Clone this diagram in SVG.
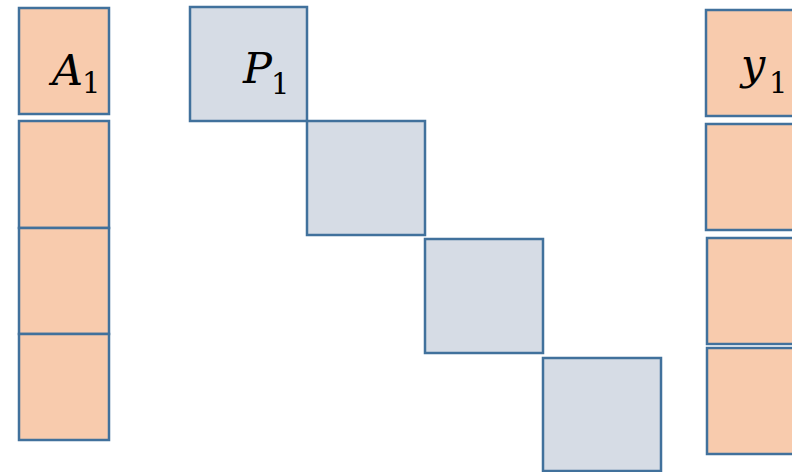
<svg xmlns="http://www.w3.org/2000/svg" width="792" height="472" viewBox="0 0 792 472">
<style>
.o{fill:#F8CBAD;stroke:#41719C;stroke-width:2.5}
.g{fill:#D6DCE5;stroke:#41719C;stroke-width:2.5}
.t{font-family:"DejaVu Serif","Liberation Serif",serif;font-style:italic;font-size:43px;fill:#000}
.s{font-style:normal;font-size:29px}
</style>
<rect width="792" height="472" fill="#fff"/>
<g id="A1"><rect class="o" x="19" y="8" width="90" height="106"/><text class="t" x="52" y="85">A<tspan class="s" x="82" y="93">1</tspan></text></g>
<g id="A2"><rect class="o" x="19" y="121" width="90" height="107"/></g>
<g id="A3"><rect class="o" x="19" y="228" width="90" height="106"/></g>
<g id="A4"><rect class="o" x="19" y="334" width="90" height="106"/></g>
<g id="P1"><rect class="g" x="190" y="7" width="117" height="114"/><text class="t" x="243" y="83">P<tspan class="s" x="271" y="94">1</tspan></text></g>
<g id="P2"><rect class="g" x="307" y="121" width="118" height="114"/></g>
<g id="P3"><rect class="g" x="425" y="239" width="118" height="114"/></g>
<g id="P4"><rect class="g" x="543" y="358" width="118" height="113"/></g>
<g id="y1"><rect class="o" x="706" y="10" width="100" height="106"/><text class="t" x="741" y="79">y<tspan class="s" x="769" y="93">1</tspan></text></g>
<g id="y2"><rect class="o" x="706" y="124" width="100" height="106"/></g>
<g id="y3"><rect class="o" x="707" y="238" width="100" height="106"/></g>
<g id="y4"><rect class="o" x="707" y="348" width="100" height="106"/></g>
<g id="connectors"></g>
</svg>
